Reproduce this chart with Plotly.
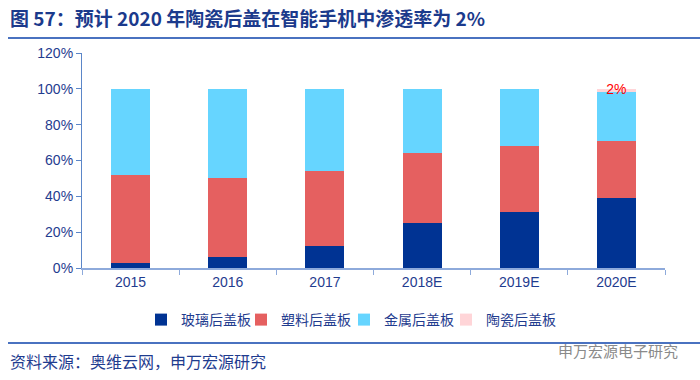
import plotly.graph_objects as go

categories = ["2015", "2016", "2017", "2018E", "2019E", "2020E"]
glass = [3, 6, 12.5, 25, 31, 39]
plastic = [49, 44, 41.5, 39, 37, 32]
metal = [48, 50, 46, 36, 32, 27]
ceramic = [0, 0, 0, 0, 0, 2]
series_names = ["玻璃后盖板", "塑料后盖板", "金属后盖板", "陶瓷后盖板"]
colors = ["#003393", "#E56060", "#66D5FF", "#FFD5D8"]
y_ticks = [0, 20, 40, 60, 80, 100, 120]
y_tick_text = [f"{v}%" for v in y_ticks]
ceramic_label = ["", "", "", "", "", "2%"]

FONT = "Noto Sans CJK SC"
NUMFONT = "Liberation Sans, Arial, sans-serif"
TXT = "#1F3C8F"

L, R, T, B = 82, 35, 53, 112
W, H = 700, 380
pw = W - L - R
ph = H - T - B

def px(x):
    return (x - L) / pw

def py(y):
    return (H - B - y) / ph

legend_ids = ["legend", "legend2", "legend3", "legend4"]
legend_x = [141, 241, 344, 446]

fig = go.Figure()
for name, vals, c, lid in zip(series_names, [glass, plastic, metal, ceramic], colors, legend_ids):
    fig.add_trace(go.Bar(x=categories, y=vals, name=name, legend=lid,
                         marker=dict(color=c, line=dict(width=0))))

tops = [g + p + m + c for g, p, m, c in zip(glass, plastic, metal, ceramic)]
fig.add_trace(go.Scatter(x=categories, y=[t - 1 for t in tops], text=ceramic_label, mode="text",
                         textfont=dict(color="#FF0000", size=14, family=NUMFONT),
                         showlegend=False, hoverinfo="skip"))

legend_common = dict(orientation="h", xanchor="left", y=py(320), yanchor="middle",
                     font=dict(size=14, color=TXT, family=FONT), itemwidth=30,
                     bgcolor="rgba(0,0,0,0)")

fig.update_layout(
    width=W, height=H,
    margin=dict(l=L, r=R, t=T, b=B, autoexpand=False),
    paper_bgcolor="white", plot_bgcolor="white",
    barmode="stack", bargap=0.6,
    font=dict(family=FONT, color=TXT, size=14),
    xaxis=dict(showline=True, linecolor="#8EAADB", linewidth=1.5,
               ticks="outside", tickcolor="#8EAADB", ticklen=5, tickson="boundaries",
               tickfont=dict(size=14, color=TXT, family=NUMFONT), fixedrange=True),
    yaxis=dict(range=[0, 120], tickvals=y_ticks, ticktext=y_tick_text,
               showline=True, linecolor="#5B86C8", linewidth=1.2,
               ticks="outside", tickcolor="#5B86C8", ticklen=5,
               showgrid=False, zeroline=False,
               tickfont=dict(size=14, color=TXT, family=NUMFONT), fixedrange=True),
    showlegend=True,
)
for lid, lx in zip(legend_ids, legend_x):
    fig.update_layout({lid: dict(x=px(lx), **legend_common)})

fig.add_annotation(text="<b>图 57：预计 2020 年陶瓷后盖在智能手机中渗透率为 2%</b>",
                   xref="paper", yref="paper", x=px(8), y=py(18), xanchor="left", yanchor="middle",
                   showarrow=False, font=dict(size=19, color="#1B3A8C", family=FONT))
fig.add_shape(type="line", xref="paper", yref="paper", x0=px(8), x1=px(700), y0=py(38), y1=py(38),
              line=dict(color="#4A72C0", width=2))
fig.add_shape(type="line", xref="paper", yref="paper", x0=px(8), x1=px(700), y0=py(343), y1=py(343),
              line=dict(color="#4A72C0", width=2))
fig.add_annotation(text="资料来源：奥维云网，申万宏源研究",
                   xref="paper", yref="paper", x=px(8), y=py(361), xanchor="left", yanchor="middle",
                   showarrow=False, font=dict(size=16, color=TXT, family=FONT))
fig.add_annotation(text="申万宏源电子研究",
                   xref="paper", yref="paper", x=px(680), y=py(350), xanchor="right", yanchor="middle",
                   showarrow=False, font=dict(size=15, color="#8A8A8A", family=FONT))

fig.write_html("out.html", config={"displayModeBar": False},
               post_script="document.body.style.margin='0';document.body.style.padding='0';")
